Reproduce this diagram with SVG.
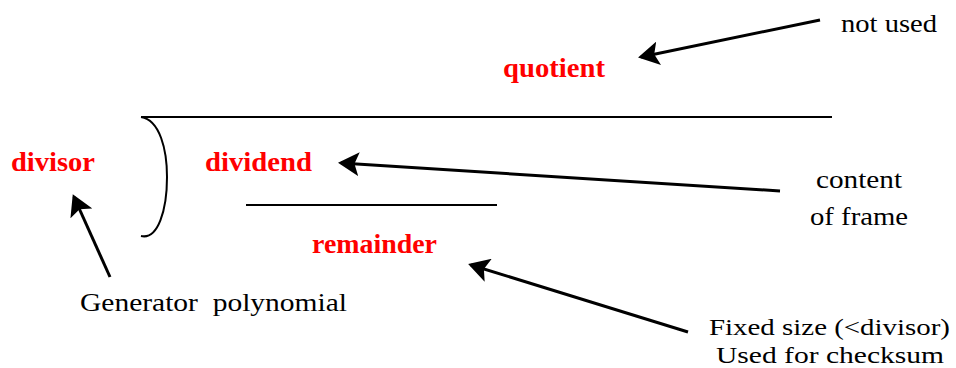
<svg xmlns="http://www.w3.org/2000/svg" width="956" height="368" viewBox="0 0 956 368">
  <style>
    text { font-family: "Liberation Serif", "Times New Roman", serif; }
    .term { font-weight: bold; font-size: 28px; fill: #ff0000; }
    .note { font-size: 26px; fill: #000000; }
    .small { font-size: 24px; }
    .rule { stroke: #000000; stroke-width: 2; fill: none; }
    .conn { stroke: #000000; stroke-width: 3; fill: none; marker-end: url(#head); }
  </style>
  <defs>
    <marker id="head" markerWidth="8" markerHeight="8" refX="6" refY="4" orient="auto" markerUnits="strokeWidth">
      <path d="M0,0 L7,4 L0,8 L1.5,4 Z" fill="#000000"/>
    </marker>
  </defs>
  <rect width="956" height="368" fill="#ffffff"/>

  <!-- long division bracket -->
  <g id="bracket">
    <line class="rule" x1="141" y1="117" x2="832" y2="117"/>
    <path class="rule" d="M141,117 C160,120 167,150 167,177 C167,210 158,240 141,236"/>
    <line class="rule" x1="246" y1="205" x2="497" y2="205"/>
  </g>

  <g id="quotient"><text class="term" x="503" y="77" textLength="102" lengthAdjust="spacingAndGlyphs">quotient</text></g>
  <g id="divisor"><text class="term" x="11" y="171" textLength="84" lengthAdjust="spacingAndGlyphs">divisor</text></g>
  <g id="dividend"><text class="term" x="205" y="171" textLength="107" lengthAdjust="spacingAndGlyphs">dividend</text></g>
  <g id="remainder"><text class="term" x="312" y="253" textLength="125" lengthAdjust="spacingAndGlyphs">remainder</text></g>

  <g id="not-used"><text class="note" x="841" y="32" textLength="96" lengthAdjust="spacingAndGlyphs">not used</text></g>
  <g id="content-of-frame">
    <text class="note" x="816" y="188" textLength="86" lengthAdjust="spacingAndGlyphs">content</text>
    <text class="note" x="810" y="225" textLength="98" lengthAdjust="spacingAndGlyphs">of frame</text>
  </g>
  <g id="generator"><text class="note" x="80" y="311" textLength="267" lengthAdjust="spacingAndGlyphs" xml:space="preserve">Generator  polynomial</text></g>
  <g id="fixed-size">
    <text class="note small" x="709" y="335" textLength="241" lengthAdjust="spacingAndGlyphs">Fixed size (&lt;divisor)</text>
    <text class="note small" x="716" y="363" textLength="228" lengthAdjust="spacingAndGlyphs">Used for checksum</text>
  </g>

  <g id="connectors">
    <line class="conn" x1="820" y1="20" x2="641" y2="57"/>
    <line class="conn" x1="780" y1="191" x2="341" y2="163"/>
    <line class="conn" x1="110" y1="277" x2="74" y2="197"/>
    <line class="conn" x1="688" y1="332" x2="471" y2="265"/>
  </g>
</svg>
